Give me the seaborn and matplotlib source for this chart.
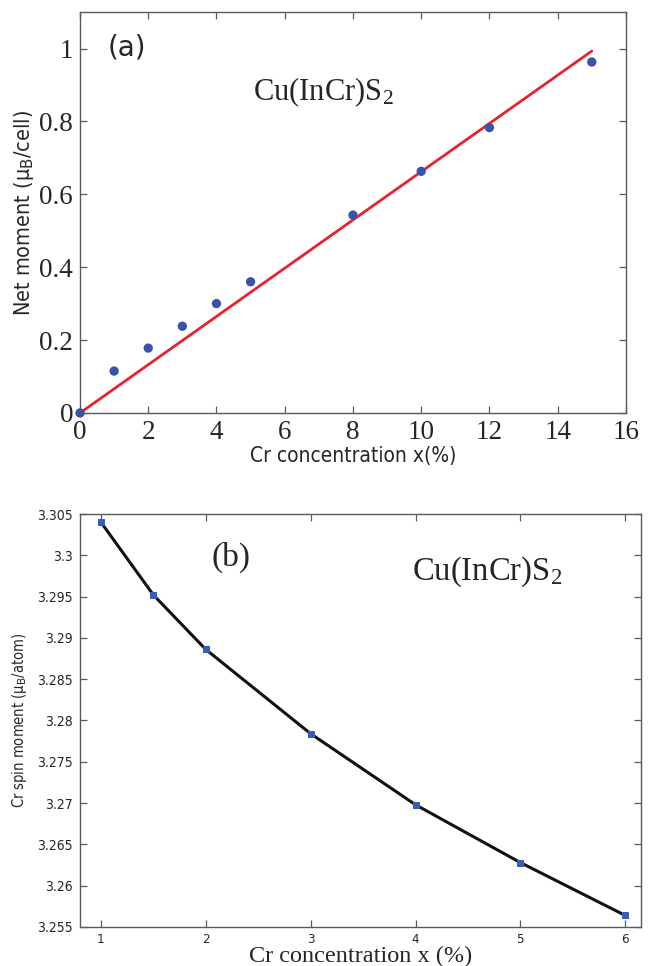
import matplotlib
matplotlib.use("Agg")
import matplotlib.pyplot as plt
import seaborn as sns
import pandas as pd

# ---- data panel (a) ----
conc_a = [0, 1, 2, 3, 4, 5, 8, 10, 12, 15]
net_moment = [0.0, 0.115, 0.178, 0.238, 0.300, 0.360, 0.543, 0.663, 0.783, 0.963]
fit_x = [0, 15]
fit_y = [0.0, 0.993]
xticks_a = [0, 2, 4, 6, 8, 10, 12, 14, 16]
yticks_a = [0, 0.2, 0.4, 0.6, 0.8, 1.0]
yticklabels_a = ["0", "0.2", "0.4", "0.6", "0.8", "1"]

# ---- data panel (b) ----
conc_b = [1, 1.5, 2, 3, 4, 5, 6]
spin_moment = [3.3040, 3.2952, 3.2886, 3.2784, 3.2698, 3.2628, 3.2564]
xticks_b = [1, 2, 3, 4, 5, 6]
yticks_b = [3.255, 3.26, 3.265, 3.27, 3.275, 3.28, 3.285, 3.29, 3.295, 3.3, 3.305]
yticklabels_b = ["3.255", "3.26", "3.265", "3.27", "3.275", "3.28", "3.285", "3.29", "3.295", "3.3", "3.305"]

sns.set_theme(style="white")
plt.rcParams["font.family"] = ["DejaVu Sans"]
plt.rcParams["mathtext.fontset"] = "custom"
plt.rcParams["mathtext.rm"] = "Liberation Serif"
plt.rcParams["mathtext.it"] = "Liberation Serif:italic"
plt.rcParams["mathtext.sf"] = "DejaVu Sans"

SERIF = "Liberation Serif"
spine_col = "#5a5a5a"

fig = plt.figure(figsize=(6.53, 9.66), dpi=100)
ax1 = fig.add_axes([0.1225, 0.5725, 0.836, 0.415])
ax2 = fig.add_axes([0.1225, 0.0404, 0.859, 0.4275])

df_a = pd.DataFrame({"x": conc_a, "y": net_moment})
df_fit = pd.DataFrame({"x": fit_x, "y": fit_y})
sns.lineplot(data=df_fit, x="x", y="y", ax=ax1, color="#e8222a", linewidth=2.0, zorder=2)
sns.scatterplot(data=df_a, x="x", y="y", ax=ax1, color="#3853a8", s=45, edgecolor="none", zorder=3, clip_on=False)

ax1.set_xlim(0, 16)
ax1.set_ylim(0, 1.1)
ax1.set_xticks(xticks_a)
ax1.set_xticklabels([str(t) for t in xticks_a], fontfamily=SERIF, fontsize=19.5)
ax1.set_yticks(yticks_a)
ax1.set_yticklabels(yticklabels_a, fontfamily=SERIF, fontsize=19.5)
ax1.set_xlabel("Cr concentration x(%)", fontsize=15, fontstretch="condensed", labelpad=1)
ax1.set_ylabel("Net moment (μ$_\\mathsf{B}$/cell)", fontsize=15.5, fontstretch="condensed", labelpad=2)
ax1.text(0.051, 0.911, "(a)", transform=ax1.transAxes, fontsize=20, ha="left", va="center")
ax1.text(0.317, 0.80, r"Cu(InCr)S$_2$", transform=ax1.transAxes, fontsize=22, fontfamily=SERIF, ha="left", va="center")

df_b = pd.DataFrame({"x": conc_b, "y": spin_moment})
sns.lineplot(data=df_b, x="x", y="y", ax=ax2, color="#111111", linewidth=2.2, marker="s",
             markersize=5, markerfacecolor="#3a5bb8", markeredgecolor="#3a5bb8", zorder=3)
ax2.set_xlim(0.8, 6.15)
ax2.set_ylim(3.255, 3.305)
ax2.set_xticks(xticks_b)
ax2.set_xticklabels([str(t) for t in xticks_b], fontsize=9.5, fontstretch="condensed")
ax2.set_yticks(yticks_b)
ax2.set_yticklabels(yticklabels_b, fontsize=10, fontstretch="condensed")
ax2.set_xlabel("Cr concentration x (%)", fontfamily=SERIF, fontsize=17.5, labelpad=0)
ax2.set_ylabel("Cr spin moment (μ$_\\mathsf{B}$/atom)", fontsize=10.5, fontstretch="condensed", labelpad=6)
ax2.text(0.235, 0.896, "(b)", transform=ax2.transAxes, fontsize=24, fontfamily=SERIF, ha="left", va="center")
ax2.text(0.592, 0.86, r"Cu(InCr)S$_2$", transform=ax2.transAxes, fontsize=23.5, fontfamily=SERIF, ha="left", va="center")

for ax in (ax1, ax2):
    for sp in ax.spines.values():
        sp.set_color(spine_col)
        sp.set_linewidth(1.0)
    ax.tick_params(direction="in", length=5, width=0.9, color=spine_col,
                   top=True, right=True, bottom=True, left=True, pad=5)
ax2.tick_params(axis="x", pad=4)

fig.savefig("out.png", dpi=100)
